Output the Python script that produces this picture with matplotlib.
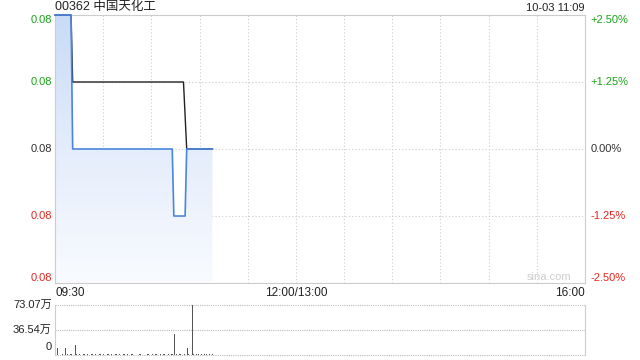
import numpy as np
import matplotlib.pyplot as plt
from matplotlib.colors import LinearSegmentedColormap

plt.rcParams['font.family'] = ['Liberation Sans', 'Noto Sans CJK SC', 'DejaVu Sans']

# 数据：分钟序号（09:30 = 0，共 330 个交易分钟）
title = '00362 中国天化工'
stamp = '10-03 11:09'
prev_close = 0.080

price_t = [0, 10, 11, 73, 74, 81, 82, 98]
price_v = [0.082, 0.082, 0.080, 0.080, 0.079, 0.079, 0.080, 0.080]

avg_t = [0, 10, 11, 80, 82, 98]
avg_v = [0.082, 0.082, 0.081, 0.081, 0.080, 0.080]

# 成交量（万股），每分钟
vol = [21, 10.5, 1, 0.5, 1, 0.5, 10, 1, 0.5, 1, 1, 0.5, 15, 1, 0.5, 1, 0.5, 1, 1, 0.5,
       1, 0.5, 1, 1, 0.5, 1, 0.5, 1, 1, 0.5, 1, 0.5, 1, 1, 0.5, 1, 0.5, 1, 1, 0.5,
       1, 0.5, 1, 1, 0.5, 1, 0.5, 1, 1, 0.5, 1, 0.5, 1, 1, 0.5, 1, 0.5, 1, 1, 0.5,
       1, 0.5, 1, 1, 0.5, 1, 0.5, 1, 1, 0.5, 1, 0.5, 1, 1, 31, 1, 0.5, 1, 1, 0.5,
       1, 0.5, 10, 1, 0.5, 73.07, 1, 0.5, 1, 1, 0.5, 1, 0.5, 1, 1, 0.5, 1, 0.5, 1]
vol_max = 73.07

pct_labels = ['+2.50%', '+1.25%', '0.00%', '-1.25%', '-2.50%']
price_labels = ['0.08', '0.08', '0.08', '0.08', '0.08']
label_colors = ['#1aa31a', '#1aa31a', '#333333', '#e8261f', '#e8261f']
x_labels = ['09:30', '12:00/13:00', '16:00']

fig = plt.figure(figsize=(6.4, 3.6), dpi=100)
ax = fig.add_axes([55 / 640, 1 - 283 / 360, 530 / 640, 268 / 360])
axv = fig.add_axes([55 / 640, 1 - 355 / 360, 530 / 640, 50 / 360])

lo, hi = prev_close * 0.975, prev_close * 1.025
ax.set_xlim(0, 330)
ax.set_ylim(lo, hi)

# 渐变填充
poly = ax.fill_between(price_t, price_v, lo, color='none', lw=0)
cmap = LinearSegmentedColormap.from_list('g', ['#f9fbff', '#e4edfb', '#c9dbf6'])
grad = np.linspace(0, 1, 256).reshape(-1, 1)
img = ax.imshow(grad, cmap=cmap, aspect='auto', origin='lower',
                extent=[0, 330, lo, hi], zorder=1)
img.set_clip_path(poly.get_paths()[0], transform=ax.transData)

ax.plot(avg_t, avg_v, color='#222222', lw=1, zorder=3, clip_on=False)
ax.plot(price_t, price_v, color='#4a86e0', lw=1.2, zorder=4, clip_on=False)

for t in range(30, 330, 30):
    ax.axvline(t, color='#cccccc', lw=0.8, ls=(0, (1, 2)), zorder=0)
for i in (1, 2, 3):
    y = lo + (hi - lo) * i / 4
    ax.axhline(y, color='#cccccc', lw=0.8, ls=(0, (1, 2)), zorder=0)

ax.set_xticks([])
ax.set_yticks([])
for s in ax.spines.values():
    s.set_color('#cccccc')

levels = [hi, lo + (hi - lo) * 3 / 4, prev_close, lo + (hi - lo) / 4, lo]
vas = ['top', 'center', 'center', 'center', 'bottom']
for y, pl, cl, c, va in zip(levels, price_labels, pct_labels, label_colors, vas):
    ax.text(-0.006, y, pl, transform=ax.get_yaxis_transform(), ha='right',
            va=va, color=c, fontsize=8)
    ax.text(1.01, y, cl, transform=ax.get_yaxis_transform(), ha='left',
            va=va, color=c, fontsize=8)

ax.text(0, 1.008, title, transform=ax.transAxes, ha='left', va='bottom',
        fontsize=9, color='#222222')
ax.text(1, 1.008, stamp, transform=ax.transAxes, ha='right', va='bottom',
        fontsize=8, color='#222222')
ax.text(0.975, 0.005, 'sina.com', transform=ax.transAxes, ha='right',
        va='bottom', fontsize=8, color='#cccccc')

ax.text(0, -0.015, x_labels[0], transform=ax.transAxes, ha='left', va='top',
        fontsize=8.5, color='#222222')
ax.text(150, lo - (hi - lo) * 0.015, x_labels[1], ha='center', va='top',
        fontsize=8.5, color='#222222')
ax.text(1, -0.015, x_labels[2], transform=ax.transAxes, ha='right', va='top',
        fontsize=8.5, color='#222222')

# 成交量
axv.bar(range(len(vol)), vol, width=0.6, color='#555555', zorder=2)
axv.set_xlim(-0.5, 330)
axv.set_ylim(0, vol_max)
axv.set_xticks([])
axv.set_yticks([])
axv.spines['left'].set_color('#cccccc')
axv.spines['right'].set_color('#cccccc')
axv.spines['top'].set_visible(False)
axv.spines['bottom'].set_visible(False)
for y in (0, vol_max / 2, vol_max):
    axv.axhline(y, color='#bbbbbb', lw=0.8, ls=(0, (1, 1)), zorder=1, clip_on=False)
axv.text(-0.006, vol_max, '73.07万', transform=axv.get_yaxis_transform(),
         ha='right', va='center', fontsize=8, color='#222222')
axv.text(-0.006, vol_max / 2, '36.54万', transform=axv.get_yaxis_transform(),
         ha='right', va='center', fontsize=8, color='#222222')
axv.text(-0.006, vol_max * 0.15, '0', transform=axv.get_yaxis_transform(),
         ha='right', va='center', fontsize=8, color='#222222')

fig.savefig('out.png', dpi=100)
